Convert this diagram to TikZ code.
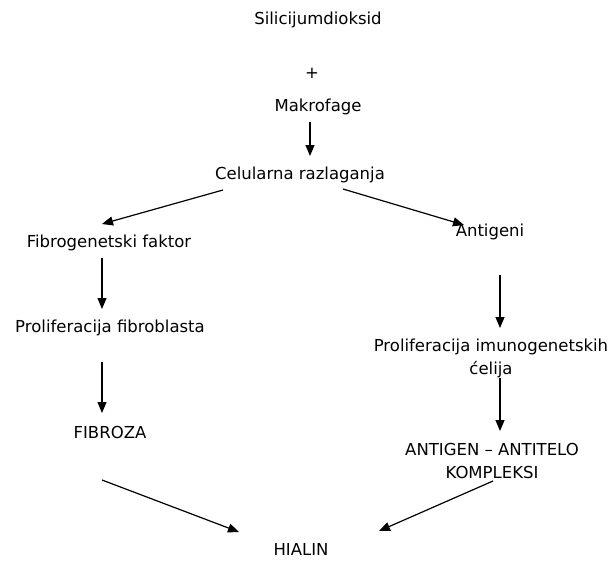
\documentclass[tikz,border=0pt]{standalone}
\usepackage{fontspec}
\setmainfont{DejaVu Sans}
\usetikzlibrary{arrows.meta}
\begin{document}
\begin{tikzpicture}[x=1pt,y=-1pt,
  lbl/.style={inner sep=0pt,font=\fontsize{16.5}{23}\selectfont,align=center},
  arr/.style={line width=1.2pt,-{Triangle[length=11pt,width=9pt]}}]
\useasboundingbox (0,0) rectangle (613,560);
\node[lbl] (sio) at (318,20) {Silicijumdioksid};
\node[lbl] (plus) at (312,73) {+};
\node[lbl] (mak) at (318,107) {Makrofage};
\node[lbl] (cel) at (300,175) {Celularna razlaganja};
\node[lbl] (fib) at (109,243) {Fibrogenetski faktor};
\node[lbl] (pf) at (110,328) {Proliferacija fibroblasta};
\node[lbl] (fz) at (110,432) {FIBROZA};
\node[lbl] (ant) at (490,232) {Antigeni};
\node[lbl] (pi) at (491,358) {Proliferacija imunogenetskih\\ćelija};
\node[lbl] (ak) at (492,461) {ANTIGEN -- ANTITELO\\KOMPLEKSI};
\node[lbl] (hi) at (301,549) {HIALIN};
% connector end points
\coordinate (m1) at (310,122); \coordinate (m2) at (310,156);
\coordinate (l1) at (223,190); \coordinate (l2) at (102,224);
\coordinate (r1) at (343,189); \coordinate (r2) at (464,225);
\coordinate (f1) at (102,258); \coordinate (f2) at (102,309);
\coordinate (p1) at (102,362); \coordinate (p2) at (102,413);
\coordinate (a1) at (500,275); \coordinate (a2) at (500,328);
\coordinate (i1) at (500,378); \coordinate (i2) at (500,431);
\coordinate (b1) at (102,480); \coordinate (b2) at (239,532);
\coordinate (c1) at (493,481); \coordinate (c2) at (379,531);
\draw[arr] (m1) -- (m2);
\draw[arr] (l1) -- (l2);
\draw[arr] (r1) -- (r2);
\draw[arr] (f1) -- (f2);
\draw[arr] (p1) -- (p2);
\draw[arr] (a1) -- (a2);
\draw[arr] (i1) -- (i2);
\draw[arr] (b1) -- (b2);
\draw[arr] (c1) -- (c2);
\end{tikzpicture}
\end{document}
